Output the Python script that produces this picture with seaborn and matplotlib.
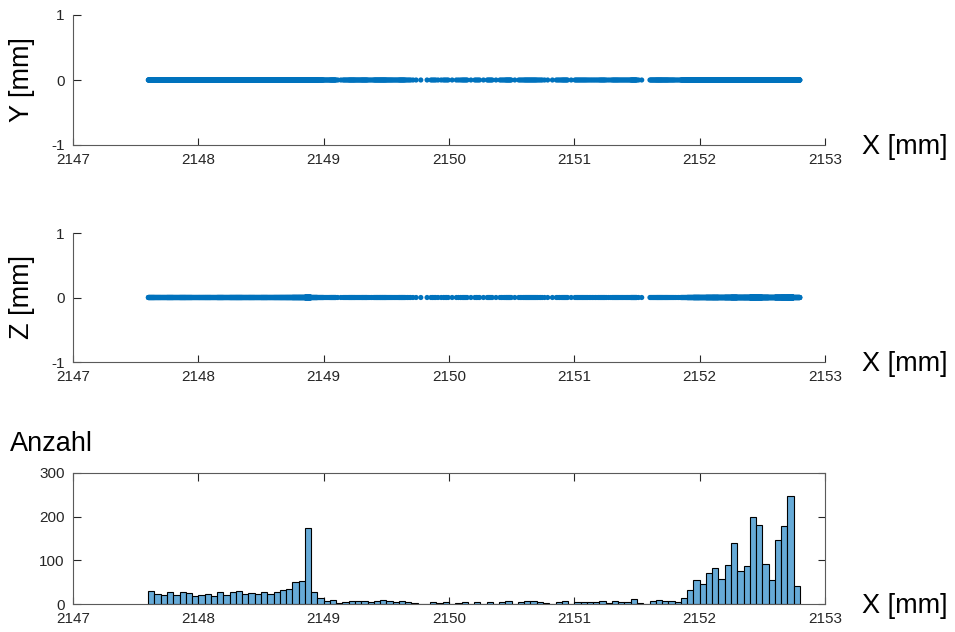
import numpy as np
import pandas as pd
import matplotlib
matplotlib.use("Agg")
import matplotlib.pyplot as plt
import seaborn as sns

# Histogram counts per 0.05 mm bin, starting at X = 2147.60 mm
bin_start = 2147.60
bin_width = 0.05
counts = [
    29, 23, 21, 28, 21, 28, 25, 18, 20, 22, 18, 28, 21, 28, 30, 23, 26, 22, 28, 23,
    28, 32, 35, 50, 53,
    173,
    27, 13, 6, 10, 2, 5, 8, 6, 8, 4, 8, 9, 6, 5, 8, 4, 2, 1, 1, 4, 2, 4, 1, 3, 5,
    1, 4, 1, 5, 1, 4, 7, 1, 4, 6, 6, 4, 2, 1, 4, 6, 1, 5, 5, 4,
    4, 6, 3, 6, 5, 5, 11, 2, 0, 7, 9, 8, 6, 4,
    14, 32, 55, 46, 72, 83, 58, 89, 140, 76, 87, 199, 182, 92, 56, 147, 178, 248, 42,
]

x_ticks = [2147, 2148, 2149, 2150, 2151, 2152, 2153]
yz_ticks = [-1, 0, 1]
count_ticks = [0, 100, 200, 300]

# Measured points: spread the points of each bin across that bin
xs = []
for i, n in enumerate(counts):
    lo = bin_start + i * bin_width
    for j in range(n):
        xs.append(lo + (j + 0.5) / n * bin_width)
xs = np.array(xs)
points = pd.DataFrame({"X": xs, "Y": np.zeros_like(xs), "Z": np.zeros_like(xs)})
edges = bin_start + bin_width * np.arange(len(counts) + 1)

sns.set_theme(style="ticks")
plt.rcParams["font.family"] = ["Liberation Sans", "DejaVu Sans"]

axis_col = "#262626"
blue = "#0072BD"
fig = plt.figure(figsize=(9.55, 6.32), dpi=100)

W, H = 955, 632


def add_axes(left, top, right, bottom):
    return fig.add_axes([left / W, 1 - bottom / H, (right - left) / W, (bottom - top) / H])


ax1 = add_axes(73, 15, 825, 145)
ax2 = add_axes(73, 233, 825, 362)
ax3 = add_axes(73, 473, 825, 604)

for ax, col in ((ax1, "Y"), (ax2, "Z")):
    sns.scatterplot(data=points, x="X", y=col, ax=ax, s=14, color=blue,
                    edgecolor="none", linewidth=0, legend=False)
    ax.set_ylim(-1, 1)
    ax.set_yticks(yz_ticks)
    ax.set_yticklabels([str(v) for v in yz_ticks])
    ax.spines["top"].set_visible(False)
    ax.spines["right"].set_visible(False)

sns.histplot(x=xs, bins=edges, ax=ax3, stat="count", color="#66AAD7",
             alpha=1.0, edgecolor="black", linewidth=0.8)
ax3.set_ylim(0, 300)
ax3.set_yticks(count_ticks)
ax3.tick_params(top=True, right=True)

for ax in (ax1, ax2, ax3):
    ax.set_xlim(2147, 2153)
    ax.set_xticks(x_ticks)
    ax.set_xticklabels([str(v) for v in x_ticks])
    ax.set_xlabel("")
    ax.set_ylabel("")
    ax.tick_params(direction="in", length=5.4, width=0.8, colors=axis_col,
                   labelsize=11)
    ax.tick_params(axis="x", pad=6)
    ax.tick_params(axis="y", pad=6)
    for sp in ax.spines.values():
        sp.set_color("#5a5a5a")
        sp.set_linewidth(0.8)
    ax.set_facecolor("white")

lab = dict(fontsize=19.5, color="black")
for bottom in (145, 362, 604):
    fig.text(862 / W, 1 - (bottom + 9) / H, "X [mm]", ha="left", va="baseline", **lab)
fig.text(22 / W, 1 - 80 / H, "Y [mm]", rotation=90, ha="center", va="center", **lab)
fig.text(22 / W, 1 - 297 / H, "Z [mm]", rotation=90, ha="center", va="center", **lab)
fig.text(10 / W, 1 - 451 / H, "Anzahl", ha="left", va="baseline", **lab)

fig.savefig("out.png", dpi=100, facecolor="white")
